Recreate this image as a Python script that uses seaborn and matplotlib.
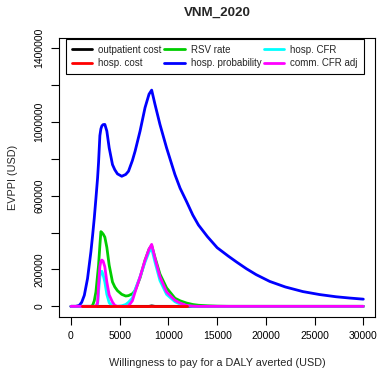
import numpy as np
import pandas as pd
import matplotlib
matplotlib.use("Agg")
import matplotlib.pyplot as plt
import seaborn as sns

# willingness to pay grid (USD per DALY averted)
wtp = [0, 500, 850, 1100, 1370, 1700, 2045, 2220, 2390, 2560,
       2730, 2830, 2965, 3070, 3170, 3300, 3475, 3680, 3920, 4260,
       4500, 4770, 5210, 5620, 5900, 6300, 6580, 7090, 7600, 8010,
       8280, 8620, 9130, 9810, 10670, 11200, 11860, 12500, 13080, 14000,
       15000, 16150, 17000, 18000, 19000, 20400, 22000, 23800, 25500, 27200,
       28600, 30000]

# EVPPI per parameter group (USD)
outpatient_cost = [0, 0, 0, 0, 0, 0, 0, 0, 0, 0,
                   0, 0, 0, 0, 0, 0, 0, 0, 0, 0,
                   0, 0, 0, 0, 0, 0, 0, 0, 0, 0,
                   2500, 0, 0, 0, 0, 0, 0, 0, 0, 0,
                   0, 0, 0, 0, 0, 0, 0, 0, 0, 0,
                   0, 0]
hosp_cost = [None, None, None, 0, 0, 0, 0, 0, 0, 0,
             0, 0, 0, 0, 0, 0, 0, 0, 0, 0,
             0, 0, 0, 0, 0, 0, 0, 0, 0, 0,
             0, 0, 0, 0, 0, 0, 0, None, None, None,
             None, None, None, None, None, None, None, None, None, None,
             None, None]
rsv_rate = [0, 0, 0, 0, 0, 0, 0, 5000, 30000, 78000,
            170000, 223000, 330000, 405000, 400000, 392000, 375000, 320000, 223000, 132000,
            105000, 85000, 65000, 56000, 58000, 68000, 85000, 155000, 250000, 310000,
            330000, 265000, 175000, 100000, 44000, 30000, 18000, 10000, 6000, 3000,
            1000, 0, 0, 0, 0, 0, 0, 0, 0, 0,
            0, 0]
hosp_probability = [0, 0, 5000, 22000, 60000, 151000, 296000, 385000, 478000, 585000,
                    696000, 780000, 925000, 962000, 978000, 985000, 986000, 950000, 859000, 768000,
                    740000, 718000, 705000, 715000, 732000, 790000, 841000, 950000, 1077000, 1150000,
                    1172000, 1095000, 986000, 859000, 714000, 640000, 568000, 495000, 441000, 378000,
                    318000, 272000, 240000, 204000, 172000, 135000, 105000, 80000, 64000, 52000,
                    45000, 39000]
hosp_cfr = [0, 0, 0, 0, 0, 0, 0, 0, 0, 0,
            10000, 80000, 160000, 187000, 190000, 170000, 132000, 65000, 20000, 0,
            0, 0, 3000, 10000, 22000, 45000, 90000, 160000, 240000, 295000,
            314000, 240000, 140000, 65000, 25000, 12000, 3000, 0, 0, 0,
            0, 0, 0, 0, 0, 0, 0, 0, 0, 0,
            0, 0]
comm_cfr_adj = [0, 0, 0, 0, 0, 0, 0, 0, 0, 0,
                20000, 114000, 215000, 245000, 251000, 245000, 214000, 132000, 62000, 23000,
                5000, 0, 0, 0, 2000, 30000, 78000, 160000, 250000, 310000,
                336000, 260000, 160000, 78000, 33000, 18000, 5000, 1000, 0, 0,
                0, 0, 0, 0, 0, 0, 0, 0, 0, 0,
                0, 0]

labels = ["outpatient cost", "hosp. cost", "RSV rate",
          "hosp. probability", "hosp. CFR", "comm. CFR adj"]
colors = ["#000000", "#FF0000", "#00CD00", "#0000FF", "#00FFFF", "#FF00FF"]
x_ticks = [0, 5000, 10000, 15000, 20000, 25000, 30000]
y_ticks = [0, 200000, 400000, 600000, 800000, 1000000, 1200000, 1400000]
y_tick_labels = ["0", "200000", "", "600000", "", "1000000", "", "1400000"]

series = [outpatient_cost, hosp_cost, rsv_rate, hosp_probability, hosp_cfr, comm_cfr_adj]
df = pd.DataFrame({"wtp": wtp})
for name, vals in zip(labels, series):
    df[name] = pd.Series(vals, dtype="float")

sns.set_style("white")
plt.rcParams["font.family"] = ["Liberation Sans", "DejaVu Sans"]

fig = plt.figure(figsize=(3.81, 3.70), dpi=100)
ax = fig.add_axes([0.1556, 0.1441, 0.8287, 0.754])

# hosp. cost is drawn last so it sits on top of the zero baseline
draw_order = [0, 2, 3, 4, 5, 1]
for i in draw_order:
    sns.lineplot(data=df, x="wtp", y=labels[i], color=colors[i], linewidth=2.0,
                 ax=ax, label=labels[i], zorder=3 + (i == 1), sort=False)

ax.set_xlim(-1200, 31200)
ax.set_ylim(-56000, 1456000)
ax.set_xticks(x_ticks)
ax.set_xticklabels([str(t) for t in x_ticks])
ax.set_yticks(y_ticks)
ax.set_yticklabels(y_tick_labels, rotation=90, va="center")
ax.tick_params(axis="both", which="major", direction="out", length=5.5, width=0.8,
               labelsize=7.5, color="black", labelcolor="black", pad=5,
               bottom=True, left=True)
for spine in ax.spines.values():
    spine.set_color("black")
    spine.set_linewidth(0.8)

ax.set_xlabel("Willingness to pay for a DALY averted (USD)", fontsize=7.8, labelpad=12)
ax.set_ylabel("EVPPI (USD)", fontsize=7.8, labelpad=12)
ax.set_title("VNM_2020", fontsize=9.6, fontweight="bold", pad=16)

handles, hl = ax.get_legend_handles_labels()
lookup = dict(zip(hl, handles))
leg = ax.legend([lookup[l] for l in labels], labels, ncol=3, loc="upper left",
                bbox_to_anchor=(0.021, 0.996), borderaxespad=0, fontsize=7,
                frameon=True, fancybox=False, edgecolor="black", framealpha=1,
                handlelength=2.1, handletextpad=0.6, columnspacing=0.3,
                borderpad=0.6, labelspacing=0.35)
leg.get_frame().set_linewidth(0.8)

fig.savefig("out.png", dpi=100)
